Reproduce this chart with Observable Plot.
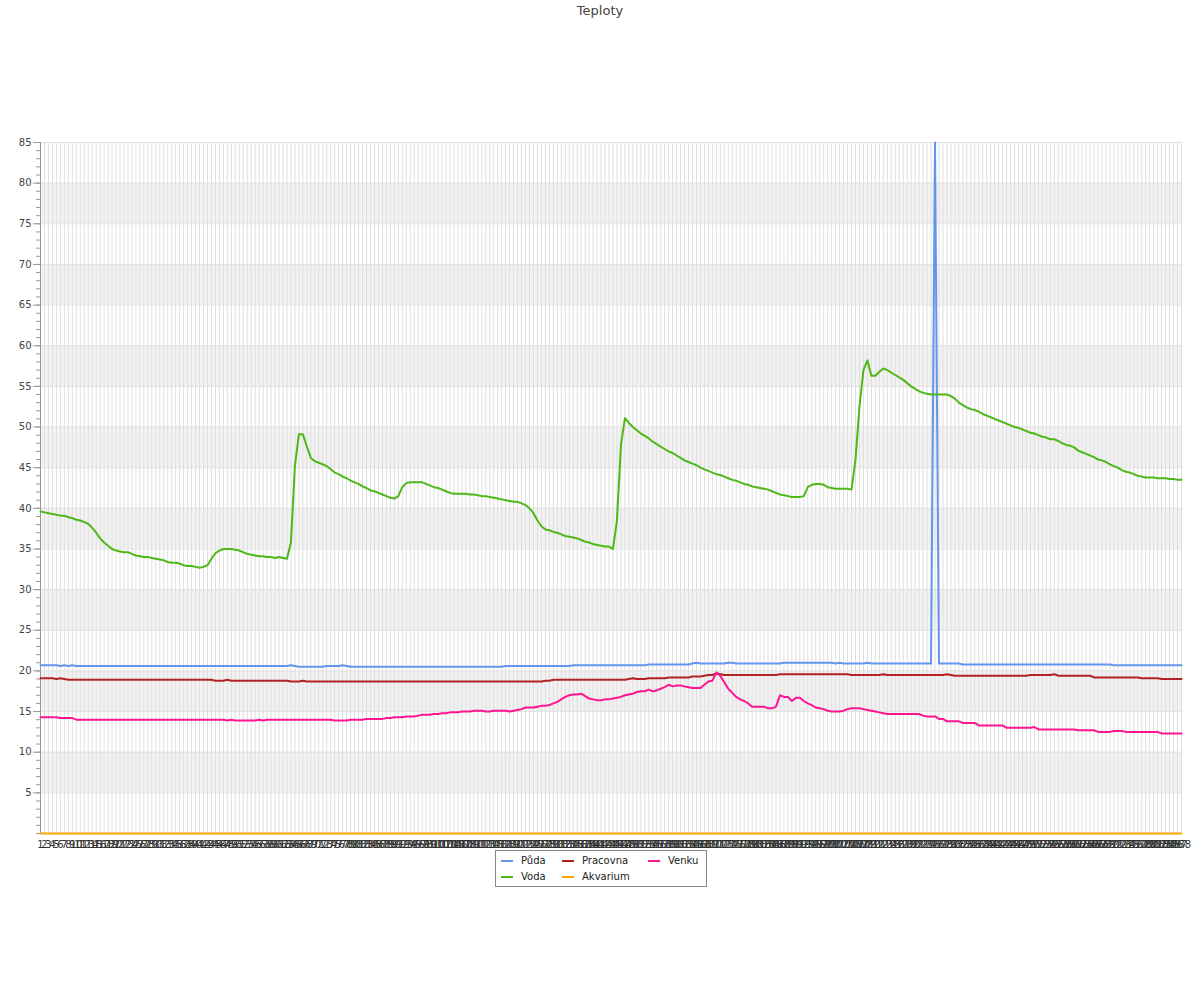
<!DOCTYPE html>
<html><head><meta charset="utf-8">
<script src="https://cdn.jsdelivr.net/npm/d3@7"></script>
<script src="https://cdn.jsdelivr.net/npm/@observablehq/plot@0.6"></script>
<style>
html,body{margin:0;padding:0;background:#fff;}
body{position:relative;width:1200px;height:1000px;font-family:"DejaVu Sans",sans-serif;}
#title{position:absolute;left:0;top:0;width:1200px;height:22px;line-height:22px;text-align:center;font-size:13px;color:#444;}
#chart{position:absolute;left:0;top:22px;}
#chart svg{display:block;}
#legend{position:absolute;left:495px;top:850px;width:210px;height:35px;border:1px solid #888;background:#fff;font-size:10px;color:#222;}
#legend .sw{position:absolute;width:12px;height:2px;}
#legend .lb{position:absolute;line-height:12px;white-space:nowrap;}
</style></head><body>
<div id="title">Teploty</div>
<div id="chart"></div>
<div id="legend"></div>
<script>
const labels = d3.range(1, 289);
const seriesNames = ["Půda", "Voda", "Pracovna", "Akvarium", "Venku"];
const seriesColors = ["#6495ed", "#4db817", "#b22222", "#ffa500", "#ff1493"];
const yTicks = [5, 10, 15, 20, 25, 30, 35, 40, 45, 50, 55, 60, 65, 70, 75, 80, 85];
const bandStarts = [5, 15, 25, 35, 45, 55, 65, 75];

const pudaValues = [
20.7,20.7,20.7,20.7,20.7,20.6,20.7,20.6,20.7,20.6,
20.6,20.6,20.6,20.6,20.6,20.6,20.6,20.6,20.6,20.6,
20.6,20.6,20.6,20.6,20.6,20.6,20.6,20.6,20.6,20.6,
20.6,20.6,20.6,20.6,20.6,20.6,20.6,20.6,20.6,20.6,
20.6,20.6,20.6,20.6,20.6,20.6,20.6,20.6,20.6,20.6,
20.6,20.6,20.6,20.6,20.6,20.6,20.6,20.6,20.6,20.6,
20.6,20.6,20.6,20.7,20.6,20.5,20.5,20.5,20.5,20.5,
20.5,20.5,20.6,20.6,20.6,20.6,20.7,20.6,20.5,20.5,
20.5,20.5,20.5,20.5,20.5,20.5,20.5,20.5,20.5,20.5,
20.5,20.5,20.5,20.5,20.5,20.5,20.5,20.5,20.5,20.5,
20.5,20.5,20.5,20.5,20.5,20.5,20.5,20.5,20.5,20.5,
20.5,20.5,20.5,20.5,20.5,20.5,20.5,20.6,20.6,20.6,
20.6,20.6,20.6,20.6,20.6,20.6,20.6,20.6,20.6,20.6,
20.6,20.6,20.6,20.6,20.7,20.7,20.7,20.7,20.7,20.7,
20.7,20.7,20.7,20.7,20.7,20.7,20.7,20.7,20.7,20.7,
20.7,20.7,20.7,20.8,20.8,20.8,20.8,20.8,20.8,20.8,
20.8,20.8,20.8,20.8,20.9,21.0,20.9,20.9,20.9,20.9,
20.9,20.9,20.9,21.0,21.0,20.9,20.9,20.9,20.9,20.9,
20.9,20.9,20.9,20.9,20.9,20.9,20.9,21.0,21.0,21.0,
21.0,21.0,21.0,21.0,21.0,21.0,21.0,21.0,21.0,21.0,
20.9,21.0,20.9,20.9,20.9,20.9,20.9,20.9,21.0,20.9,
20.9,20.9,20.9,20.9,20.9,20.9,20.9,20.9,20.9,20.9,
20.9,20.9,20.9,20.9,20.9,85.0,20.9,20.9,20.9,20.9,
20.9,20.9,20.8,20.8,20.8,20.8,20.8,20.8,20.8,20.8,
20.8,20.8,20.8,20.8,20.8,20.8,20.8,20.8,20.8,20.8,
20.8,20.8,20.8,20.8,20.8,20.8,20.8,20.8,20.8,20.8,
20.8,20.8,20.8,20.8,20.8,20.8,20.8,20.8,20.8,20.8,
20.7,20.7,20.7,20.7,20.7,20.7,20.7,20.7,20.7,20.7,
20.7,20.7,20.7,20.7,20.7,20.7,20.7,20.7
];

const vodaValues = [
39.6,39.5,39.4,39.3,39.2,39.1,39.1,38.9,38.8,38.6,
38.5,38.3,38.1,37.6,37.0,36.3,35.8,35.4,35.0,34.8,
34.7,34.6,34.6,34.4,34.2,34.1,34.0,34.0,33.9,33.8,
33.7,33.6,33.4,33.3,33.3,33.2,33.0,32.9,32.9,32.8,
32.7,32.8,33.0,33.8,34.5,34.8,35.0,35.0,35.0,34.9,
34.8,34.6,34.4,34.3,34.2,34.1,34.1,34.0,34.0,33.9,
34.0,33.9,33.8,35.8,45.3,49.1,49.1,47.6,46.2,45.8,
45.6,45.4,45.2,44.8,44.4,44.2,43.9,43.7,43.4,43.2,
43.0,42.7,42.5,42.2,42.1,41.9,41.7,41.5,41.3,41.2,
41.5,42.6,43.1,43.2,43.2,43.2,43.2,43.0,42.8,42.6,
42.5,42.3,42.1,41.9,41.8,41.8,41.8,41.8,41.7,41.7,
41.6,41.5,41.5,41.4,41.3,41.2,41.1,41.0,40.9,40.8,
40.8,40.6,40.4,40.0,39.4,38.5,37.8,37.4,37.3,37.1,
37.0,36.8,36.6,36.5,36.4,36.3,36.1,35.9,35.8,35.6,
35.5,35.4,35.3,35.3,35.0,38.5,47.8,51.1,50.5,50.0,
49.6,49.2,48.9,48.6,48.2,47.9,47.6,47.3,47.0,46.8,
46.5,46.2,45.9,45.7,45.5,45.3,45.0,44.8,44.6,44.4,
44.2,44.1,43.9,43.7,43.5,43.4,43.2,43.0,42.9,42.7,
42.6,42.5,42.4,42.3,42.1,41.9,41.7,41.6,41.5,41.4,
41.4,41.4,41.5,42.6,42.9,43.0,43.0,42.9,42.6,42.5,
42.4,42.4,42.4,42.4,42.3,46.0,52.5,57.0,58.2,56.3,
56.3,56.8,57.2,57.0,56.7,56.4,56.1,55.8,55.4,55.0,
54.7,54.4,54.2,54.1,54.0,54.0,54.0,54.0,54.0,53.8,
53.5,53.0,52.7,52.4,52.2,52.1,51.9,51.6,51.4,51.2,
51.0,50.8,50.6,50.4,50.2,50.0,49.9,49.7,49.5,49.3,
49.2,49.0,48.8,48.7,48.5,48.5,48.3,48.0,47.8,47.7,
47.5,47.1,46.9,46.7,46.5,46.3,46.0,45.9,45.7,45.4,
45.2,45.0,44.7,44.5,44.4,44.2,44.0,43.9,43.8,43.8,
43.8,43.7,43.7,43.7,43.6,43.6,43.5,43.5
];

const pracovnaValues = [
19.1,19.1,19.1,19.1,19.0,19.1,19.0,18.9,18.9,18.9,
18.9,18.9,18.9,18.9,18.9,18.9,18.9,18.9,18.9,18.9,
18.9,18.9,18.9,18.9,18.9,18.9,18.9,18.9,18.9,18.9,
18.9,18.9,18.9,18.9,18.9,18.9,18.9,18.9,18.9,18.9,
18.9,18.9,18.9,18.9,18.8,18.8,18.8,18.9,18.8,18.8,
18.8,18.8,18.8,18.8,18.8,18.8,18.8,18.8,18.8,18.8,
18.8,18.8,18.8,18.7,18.7,18.7,18.8,18.7,18.7,18.7,
18.7,18.7,18.7,18.7,18.7,18.7,18.7,18.7,18.7,18.7,
18.7,18.7,18.7,18.7,18.7,18.7,18.7,18.7,18.7,18.7,
18.7,18.7,18.7,18.7,18.7,18.7,18.7,18.7,18.7,18.7,
18.7,18.7,18.7,18.7,18.7,18.7,18.7,18.7,18.7,18.7,
18.7,18.7,18.7,18.7,18.7,18.7,18.7,18.7,18.7,18.7,
18.7,18.7,18.7,18.7,18.7,18.7,18.7,18.8,18.8,18.9,
18.9,18.9,18.9,18.9,18.9,18.9,18.9,18.9,18.9,18.9,
18.9,18.9,18.9,18.9,18.9,18.9,18.9,18.9,19.0,19.1,
19.0,19.0,19.0,19.1,19.1,19.1,19.1,19.1,19.2,19.2,
19.2,19.2,19.2,19.2,19.3,19.3,19.3,19.4,19.5,19.5,
19.7,19.6,19.5,19.5,19.5,19.5,19.5,19.5,19.5,19.5,
19.5,19.5,19.5,19.5,19.5,19.5,19.6,19.6,19.6,19.6,
19.6,19.6,19.6,19.6,19.6,19.6,19.6,19.6,19.6,19.6,
19.6,19.6,19.6,19.6,19.5,19.5,19.5,19.5,19.5,19.5,
19.5,19.5,19.6,19.5,19.5,19.5,19.5,19.5,19.5,19.5,
19.5,19.5,19.5,19.5,19.5,19.5,19.5,19.5,19.6,19.5,
19.4,19.4,19.4,19.4,19.4,19.4,19.4,19.4,19.4,19.4,
19.4,19.4,19.4,19.4,19.4,19.4,19.4,19.4,19.4,19.5,
19.5,19.5,19.5,19.5,19.5,19.6,19.4,19.4,19.4,19.4,
19.4,19.4,19.4,19.4,19.4,19.2,19.2,19.2,19.2,19.2,
19.2,19.2,19.2,19.2,19.2,19.2,19.2,19.1,19.1,19.1,
19.1,19.1,19.0,19.0,19.0,19.0,19.0,19.0
];

const akvariumValues = [
0,0,0,0,0,0,0,0,0,0, 0,0,0,0,0,0,0,0,0,0, 0,0,0,0,0,0,0,0,0,0,
0,0,0,0,0,0,0,0,0,0, 0,0,0,0,0,0,0,0,0,0, 0,0,0,0,0,0,0,0,0,0,
0,0,0,0,0,0,0,0,0,0, 0,0,0,0,0,0,0,0,0,0, 0,0,0,0,0,0,0,0,0,0,
0,0,0,0,0,0,0,0,0,0, 0,0,0,0,0,0,0,0,0,0, 0,0,0,0,0,0,0,0,0,0,
0,0,0,0,0,0,0,0,0,0, 0,0,0,0,0,0,0,0,0,0, 0,0,0,0,0,0,0,0,0,0,
0,0,0,0,0,0,0,0,0,0, 0,0,0,0,0,0,0,0,0,0, 0,0,0,0,0,0,0,0,0,0,
0,0,0,0,0,0,0,0,0,0, 0,0,0,0,0,0,0,0,0,0, 0,0,0,0,0,0,0,0,0,0,
0,0,0,0,0,0,0,0,0,0, 0,0,0,0,0,0,0,0,0,0, 0,0,0,0,0,0,0,0,0,0,
0,0,0,0,0,0,0,0,0,0, 0,0,0,0,0,0,0,0,0,0, 0,0,0,0,0,0,0,0,0,0,
0,0,0,0,0,0,0,0,0,0, 0,0,0,0,0,0,0,0
];

const venkuValues = [
14.3,14.3,14.3,14.3,14.3,14.2,14.2,14.2,14.2,14.0,
14.0,14.0,14.0,14.0,14.0,14.0,14.0,14.0,14.0,14.0,
14.0,14.0,14.0,14.0,14.0,14.0,14.0,14.0,14.0,14.0,
14.0,14.0,14.0,14.0,14.0,14.0,14.0,14.0,14.0,14.0,
14.0,14.0,14.0,14.0,14.0,14.0,14.0,13.9,14.0,13.9,
13.9,13.9,13.9,13.9,13.9,14.0,13.9,14.0,14.0,14.0,
14.0,14.0,14.0,14.0,14.0,14.0,14.0,14.0,14.0,14.0,
14.0,14.0,14.0,14.0,13.9,13.9,13.9,13.9,14.0,14.0,
14.0,14.0,14.1,14.1,14.1,14.1,14.1,14.2,14.2,14.3,
14.3,14.3,14.4,14.4,14.4,14.5,14.6,14.6,14.6,14.7,
14.7,14.8,14.8,14.9,14.9,14.9,15.0,15.0,15.0,15.1,
15.1,15.1,15.0,15.0,15.1,15.1,15.1,15.1,15.0,15.1,
15.2,15.3,15.5,15.5,15.5,15.6,15.7,15.7,15.8,16.0,
16.2,16.5,16.8,17.0,17.1,17.1,17.2,16.9,16.6,16.5,
16.4,16.4,16.5,16.5,16.6,16.7,16.8,17.0,17.1,17.2,
17.4,17.5,17.5,17.7,17.5,17.6,17.8,18.0,18.3,18.1,
18.2,18.2,18.1,18.0,17.9,17.9,17.9,18.3,18.7,18.8,
19.8,19.4,18.6,17.8,17.3,16.8,16.5,16.3,16.0,15.6,
15.6,15.6,15.6,15.4,15.4,15.6,17.0,16.8,16.8,16.3,
16.7,16.7,16.3,16.0,15.8,15.5,15.4,15.3,15.1,15.0,
15.0,15.0,15.1,15.3,15.4,15.4,15.4,15.3,15.2,15.1,
15.0,14.9,14.8,14.7,14.7,14.7,14.7,14.7,14.7,14.7,
14.7,14.7,14.5,14.4,14.4,14.4,14.1,14.1,13.8,13.8,
13.8,13.8,13.6,13.6,13.6,13.6,13.3,13.3,13.3,13.3,
13.3,13.3,13.3,13.0,13.0,13.0,13.0,13.0,13.0,13.0,
13.1,12.8,12.8,12.8,12.8,12.8,12.8,12.8,12.8,12.8,
12.8,12.7,12.7,12.7,12.7,12.7,12.5,12.5,12.5,12.5,
12.6,12.6,12.6,12.5,12.5,12.5,12.5,12.5,12.5,12.5,
12.5,12.5,12.3,12.3,12.3,12.3,12.3,12.3
];

const seriesValues = [pudaValues, vodaValues, pracovnaValues, akvariumValues, venkuValues];
const rows = seriesNames.flatMap((name, s) =>
  labels.map((label, i) => ({series: name, label, value: seriesValues[s][i]})));

const chart = Plot.plot({
  width: 1200,
  height: 831,
  marginTop: 120,
  marginBottom: 20,
  marginLeft: 40,
  marginRight: 19,
  style: {fontFamily: "'DejaVu Sans', sans-serif", fontSize: "10px", color: "#444", background: "#fff", overflow: "visible"},
  x: {type: "point", domain: labels, padding: 0, axis: null},
  y: {domain: [0, 85], axis: null},
  color: {domain: seriesNames, range: seriesColors},
  marks: [
    Plot.rect(bandStarts, {y1: d => d, y2: d => d + 5, fill: "#f2f2f2"}),
    Plot.ruleX(labels, {stroke: "#dedede", strokeWidth: 1}),
    Plot.ruleY(yTicks, {stroke: "#e2e2e2", strokeWidth: 1}),
    Plot.ruleX([labels[0]], {stroke: "#999"}),
    Plot.ruleY([0], {stroke: "#999"}),
    Plot.axisY(d3.range(0, 86), {tickSize: 4, tickFormat: () => "", stroke: "#999", label: null}),
    Plot.axisY(yTicks, {tickSize: 7, tickPadding: 2, stroke: "#999", fill: "#444", label: null}),
    Plot.axisX(labels, {tickSize: 0, tickPadding: 7, fill: "#333", label: null}),
    Plot.line(rows, {x: "label", y: "value", z: "series", stroke: "series", strokeWidth: 2})
  ]
});
document.getElementById("chart").appendChild(chart);

const legend = document.getElementById("legend");
const colX = [5, 66, 152];
const rowY = [10, 26];
seriesNames.forEach((name, k) => {
  const c = Math.floor(k / 2), r = k % 2;
  const sw = document.createElement("div");
  sw.className = "sw";
  sw.style.left = colX[c] + "px";
  sw.style.top = (rowY[r] - 1) + "px";
  sw.style.background = seriesColors[k];
  legend.appendChild(sw);
  const lb = document.createElement("div");
  lb.className = "lb";
  lb.style.left = (colX[c] + 20) + "px";
  lb.style.top = (rowY[r] - 6) + "px";
  lb.textContent = name;
  legend.appendChild(lb);
});
</script>
</body></html>
